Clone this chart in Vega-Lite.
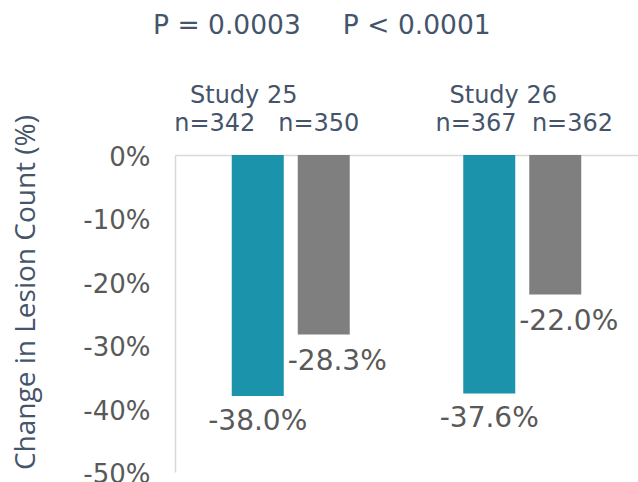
{
  "$schema": "https://vega.github.io/schema/vega-lite/v6.json",
  "width": 463,
  "height": 317,
  "autosize": {"type": "none"},
  "padding": {"left": 175, "top": 155, "right": 0, "bottom": 10},
  "title": {
    "text": "P = 0.0003\u00a0\u00a0\u00a0\u00a0\u00a0P < 0.0001",
    "anchor": "start",
    "frame": "group",
    "dx": -22,
    "offset": 45,
    "font": "DejaVu Sans",
    "fontSize": 26.5,
    "fontWeight": "normal",
    "color": "#44546A"
  },
  "datasets": {
    "bars": [
      {"study": "Study 25", "treatment": "Active", "value": -0.380},
      {"study": "Study 25", "treatment": "Vehicle", "value": -0.283},
      {"study": "Study 26", "treatment": "Active", "value": -0.376},
      {"study": "Study 26", "treatment": "Vehicle", "value": -0.220}
    ],
    "studies": [
      {"study": "Study 25", "n": "n=342\u00a0\u00a0\u00a0n=350"},
      {"study": "Study 26", "n": "n=367\u00a0\u00a0n=362"}
    ]
  },
  "encoding": {
    "x": {
      "field": "study",
      "type": "nominal",
      "scale": {"paddingInner": 0, "paddingOuter": 0},
      "axis": {
        "orient": "top",
        "title": null,
        "labels": false,
        "ticks": false,
        "domain": true,
        "domainColor": "#D9D9D9",
        "domainWidth": 1.5
      }
    }
  },
  "layer": [
    {
      "data": {"name": "bars"},
      "mark": {"type": "bar"},
      "encoding": {
        "xOffset": {
          "field": "treatment",
          "type": "nominal",
          "scale": {"paddingInner": 0.212, "paddingOuter": 0.86}
        },
        "y": {
          "field": "value",
          "type": "quantitative",
          "scale": {"domain": [-0.5, 0], "nice": false},
          "axis": {
            "values": [0, -0.1, -0.2, -0.3, -0.4, -0.5],
            "format": ".0%",
            "grid": false,
            "ticks": false,
            "domain": true,
            "domainColor": "#D9D9D9",
            "domainWidth": 1.5,
            "labelFont": "DejaVu Sans",
            "labelFontSize": 26,
            "labelColor": "#595959",
            "labelPadding": 25,
            "labelOffset": 2.5,
            "labelFlush": false,
            "labelOverlap": false,
            "title": "Change in Lesion Count (%)",
            "titleFont": "Open Sans",
            "titleFontSize": 28,
            "titleFontWeight": "normal",
            "titleColor": "#44546A",
            "titleAngle": -90,
            "titleAlign": "center",
            "titleBaseline": "middle",
            "titleX": -149,
            "titleY": 137
          }
        },
        "color": {
          "field": "treatment",
          "type": "nominal",
          "scale": {"domain": ["Active", "Vehicle"], "range": ["#1A93AB", "#7F7F7F"]},
          "legend": null
        }
      }
    },
    {
      "data": {"name": "bars"},
      "transform": [{"filter": "datum.treatment == 'Active'"}],
      "mark": {"type": "text", "font": "DejaVu Sans", "fontSize": 28, "color": "#595959", "baseline": "middle", "align": "center", "dy": 26},
      "encoding": {
        "xOffset": {"field": "treatment", "type": "nominal"},
        "y": {"field": "value", "type": "quantitative"},
        "text": {"field": "value", "type": "quantitative", "format": ".1%"}
      }
    },
    {
      "data": {"name": "bars"},
      "transform": [{"filter": "datum.treatment == 'Vehicle'"}],
      "mark": {"type": "text", "font": "DejaVu Sans", "fontSize": 28, "color": "#595959", "baseline": "middle", "align": "center", "dy": 28, "dx": 13.5},
      "encoding": {
        "xOffset": {"field": "treatment", "type": "nominal"},
        "y": {"field": "value", "type": "quantitative"},
        "text": {"field": "value", "type": "quantitative", "format": ".1%"}
      }
    },
    {
      "data": {"name": "studies"},
      "transform": [{"filter": "datum.study == 'Study 25'"}],
      "mark": {"type": "text", "font": "DejaVu Sans", "fontSize": 24, "color": "#44546A", "baseline": "middle", "align": "center", "dy": -59, "dx": -47},
      "encoding": {"y": {"datum": 0, "type": "quantitative"}, "text": {"field": "study"}}
    },
    {
      "data": {"name": "studies"},
      "transform": [{"filter": "datum.study == 'Study 26'"}],
      "mark": {"type": "text", "font": "DejaVu Sans", "fontSize": 24, "color": "#44546A", "baseline": "middle", "align": "center", "dy": -59, "dx": -19},
      "encoding": {"y": {"datum": 0, "type": "quantitative"}, "text": {"field": "study"}}
    },
    {
      "data": {"name": "studies"},
      "transform": [{"filter": "datum.study == 'Study 25'"}],
      "mark": {"type": "text", "font": "DejaVu Sans", "fontSize": 24, "color": "#44546A", "baseline": "middle", "align": "center", "dy": -31, "dx": -24},
      "encoding": {"y": {"datum": 0, "type": "quantitative"}, "text": {"field": "n"}}
    },
    {
      "data": {"name": "studies"},
      "transform": [{"filter": "datum.study == 'Study 26'"}],
      "mark": {"type": "text", "font": "DejaVu Sans", "fontSize": 24, "color": "#44546A", "baseline": "middle", "align": "center", "dy": -31, "dx": 2},
      "encoding": {"y": {"datum": 0, "type": "quantitative"}, "text": {"field": "n"}}
    }
  ],
  "config": {
    "view": {"stroke": null},
    "font": "DejaVu Sans",
    "locale": {
      "number": {"decimal": ".", "thousands": ",", "grouping": [3], "currency": ["$", ""], "minus": "-"}
    }
  }
}
